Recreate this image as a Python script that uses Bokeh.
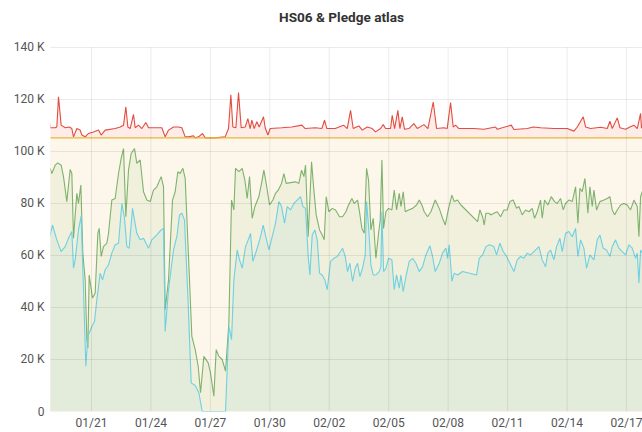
import numpy as np
import pandas as pd
from bokeh.plotting import figure
from bokeh.models import Range1d, FixedTicker, DatetimeTickFormatter, Label
from bokeh.embed import file_html
from bokeh.resources import INLINE

# ---- data (time in days since 2019-01-18 00:00, values in thousands HS06) ----
red_day = [0.85, 0.913, 1.166, 1.250, 1.334, 1.468, 1.670, 1.872, 2.007, 2.091, 2.259, 2.427, 2.512,
           2.680, 2.848, 3.100, 3.353, 3.488, 3.689, 4.194, 4.447, 4.615, 4.733, 4.834, 4.951, 5.120,
           5.204, 5.372, 5.540, 5.742, 5.877, 6.213, 6.550, 6.718, 6.887, 7.139, 7.391, 7.560, 7.728,
           7.896, 8.149, 8.233, 8.401, 8.603, 8.737, 9.242, 9.747, 9.915, 10.033, 10.134, 10.286,
           10.420, 10.555, 10.757, 10.891, 11.009, 11.093, 11.211, 11.346, 11.463, 11.682, 11.766,
           11.901, 12.019, 12.608, 13.112, 13.617, 13.786, 14.290, 14.627, 14.761, 14.879, 15.299,
           15.720, 15.907, 16.075, 16.209, 16.495, 16.664, 16.916, 17.168, 17.337, 17.589, 17.724,
           17.842, 18.094, 18.178, 18.296, 18.464, 18.565, 18.683, 18.801, 19.019, 19.272, 19.440,
           19.777, 19.979, 20.248, 20.416, 20.786, 20.954, 21.123, 21.257, 21.375, 21.543, 22.301,
           22.805, 23.394, 23.478, 24.185, 24.320, 24.993, 25.296, 25.666, 26.339, 27.012, 27.349,
           27.517, 27.820, 27.937, 28.190, 28.695, 29.031, 29.166, 29.284, 29.536, 29.671, 29.957,
           30.175, 30.377, 30.545, 30.713, 30.76, 30.85]
red_k = [113.3, 109.1, 109.1, 109.4, 121.0, 110.1, 109.1, 109.4, 108.8, 105.6, 108.8, 108.2, 106.3,
         105.6, 106.9, 107.5, 108.2, 106.3, 108.2, 108.8, 109.4, 110.1, 117.1, 109.4, 108.8, 114.2,
         109.1, 110.1, 108.8, 111.1, 109.1, 109.1, 109.1, 105.6, 108.2, 109.4, 109.4, 109.1, 105.6,
         105.6, 106.0, 105.2, 105.6, 106.9, 105.2, 105.2, 105.6, 108.8, 121.8, 109.4, 109.1,
         122.6, 109.1, 109.4, 112.6, 108.8, 112.0, 108.8, 111.4, 109.4, 113.3, 109.1,
         106.3, 108.8, 109.1, 109.4, 110.1, 108.8, 109.1, 108.8, 112.0, 108.8, 108.8,
         110.1, 108.8, 115.8, 108.8, 109.8, 108.2, 109.4, 108.8, 107.5, 108.8, 110.3,
         108.8, 108.8, 113.9, 108.8, 115.8, 108.8, 113.3, 108.5, 108.8, 110.7, 108.8,
         110.3, 108.8, 119.0, 108.8, 109.1, 108.8, 118.8, 109.4, 110.1, 108.8, 108.8,
         108.5, 109.4, 108.5, 110.1, 108.4, 108.8, 109.4, 109.1, 108.8, 108.8, 107.8,
         109.4, 113.3, 109.4, 108.8, 109.3, 108.8, 111.6, 108.8, 112.9, 109.1, 108.5,
         109.4, 110.1, 108.8, 114.6, 109.0, 109.5]

pledge_day = [0.85, 30.85]
pledge_k = [105.2, 105.2]

green_day = [0.85, 0.913, 0.997, 1.166, 1.300, 1.468, 1.586, 1.754, 1.923, 2.007, 2.091, 2.259, 2.343,
             2.461, 2.562, 2.680, 2.764, 2.815, 2.882, 3.050, 3.185, 3.319, 3.387, 3.488, 3.605, 3.774,
             3.858, 4.026, 4.194, 4.363, 4.497, 4.615, 4.733, 4.867, 5.002, 5.170, 5.288, 5.456, 5.625,
             5.793, 5.961, 6.129, 6.298, 6.516, 6.634, 6.718, 6.887, 7.088, 7.223, 7.358, 7.475, 7.610,
             7.728, 7.896, 8.064, 8.233, 8.385, 8.502, 8.671, 8.889, 9.007, 9.175, 9.293, 9.428, 9.596,
             9.764, 9.933, 10.067, 10.185, 10.269, 10.437, 10.606, 10.740, 10.858, 10.976, 11.111,
             11.245, 11.447, 11.582, 11.699, 11.817, 11.985, 12.154, 12.288, 12.423, 12.591, 12.709,
             12.827, 13.046, 13.298, 13.466, 13.601, 13.719, 13.803, 13.937, 14.106, 14.223, 14.341,
             14.509, 14.644, 14.745, 14.846, 14.981, 15.149, 15.317, 15.519, 15.671, 15.839, 15.974,
             16.142, 16.260, 16.428, 16.512, 16.647, 16.765, 16.882, 16.983, 17.101, 17.219, 17.354,
             17.488, 17.572, 17.657, 17.741, 17.858, 17.993, 18.161, 18.279, 18.397, 18.532, 18.616,
             18.733, 18.834, 19.003, 19.205, 19.406, 19.541, 19.676, 19.793, 19.962, 20.130, 20.349,
             20.551, 20.719, 20.854, 21.022, 21.190, 21.308, 21.476, 21.644, 22.486, 22.603, 22.738,
             22.822, 22.906, 23.075, 23.141, 23.309, 23.478, 23.646, 23.814, 23.982, 24.117, 24.285,
             24.453, 24.571, 24.740, 24.908, 25.076, 25.244, 25.362, 25.497, 25.665, 25.749, 25.867,
             26.035, 26.203, 26.372, 26.506, 26.674, 26.809, 26.927, 27.095, 27.264, 27.432, 27.550,
             27.650, 27.768, 27.903, 27.987, 28.054, 28.155, 28.273, 28.357, 28.492, 28.660, 28.862,
             29.030, 29.165, 29.283, 29.400, 29.535, 29.703, 29.872, 30.040, 30.208, 30.376, 30.545,
             30.629, 30.713, 30.797, 30.85]
green_k = [93.0, 93.5, 91.5, 94.7, 95.6, 94.7, 90.3, 80.7, 93.1, 91.5, 66.6, 83.9, 80.0,
           87.1, 60.9, 50.6, 27.6, 24.4, 52.5, 43.6, 45.5, 68.5, 70.4, 59.6, 63.4, 64.7,
           68.5, 81.3, 81.9, 91.5, 97.3, 101.1, 74.9, 92.8, 99.2, 101.1, 95.4, 96.7, 84.5,
           81.3, 80.7, 85.1, 86.4, 90.3, 86.4, 39.1, 50.6, 81.3, 84.5, 92.2, 91.5, 93.5,
           89.6, 59.6, 28.9, 23.8, 17.4, 7.2, 21.2, 18.7, 14.8, 5.9, 23.8, 21.2, 20.0,
           15.5, 34.0, 81.3, 77.5, 93.5, 92.2, 93.5, 89.0, 81.9, 90.3, 74.3,
           78.8, 82.6, 87.7, 92.8, 87.7, 79.4, 81.3, 83.9, 85.1, 87.7, 91.5,
           87.7, 88.0, 88.3, 87.7, 92.8, 90.3, 94.7, 67.2, 96.0, 85.1, 75.6,
           69.8, 67.9, 66.0, 82.6, 76.8, 78.1, 77.5, 74.9, 74.9, 76.8, 79.4,
           81.9, 80.0, 81.3, 77.5, 70.4, 68.5, 93.5, 89.0, 69.8, 74.3, 58.9,
           68.5, 73.6, 96.7, 70.4, 76.8, 78.1, 77.5, 85.1, 77.5, 83.9, 78.8,
           84.5, 76.8, 77.5, 78.1, 79.4, 81.3, 79.4, 76.8, 74.9, 76.8, 81.3,
           78.1, 74.3, 71.7, 78.1, 83.2, 80.7, 81.3, 79.4, 73.0, 77.5, 74.9,
           71.7, 76.2, 76.2, 75.6, 76.2, 76.8, 74.9, 77.5, 77.5, 80.7, 81.3,
           78.1, 78.8, 75.6, 77.5, 76.8, 78.1, 74.3, 76.8, 81.3, 74.3, 81.3,
           79.4, 82.6, 80.7, 80.0, 81.9, 77.5, 80.0, 81.3, 80.7, 86.4, 72.4,
           85.8, 84.5, 89.6, 82.6, 76.2, 86.4, 78.8, 85.1, 77.5, 80.7, 81.3,
           81.9, 82.6, 77.5, 75.6, 77.5, 79.4, 80.0, 79.4, 77.5, 81.3, 78.8,
           67.2, 82.6, 84.5, 84.0]

cyan_day = [0.85, 0.913, 1.031, 1.250, 1.468, 1.670, 1.872, 2.007, 2.091, 2.175, 2.343, 2.478, 2.579,
            2.714, 2.815, 3.016, 3.151, 3.269, 3.437, 3.555, 3.690, 3.858, 4.026, 4.194, 4.363, 4.531,
            4.665, 4.783, 4.901, 5.069, 5.170, 5.288, 5.456, 5.625, 5.877, 6.045, 6.298, 6.516, 6.634,
            6.718, 6.887, 7.139, 7.307, 7.442, 7.560, 7.694, 7.863, 8.031, 8.233, 8.418, 8.587, 9.764,
            9.933, 10.067, 10.185, 10.353, 10.471, 10.606, 10.774, 10.942, 11.026, 11.144, 11.312,
            11.531, 11.666, 11.817, 11.952, 12.120, 12.288, 12.457, 12.591, 12.743, 12.877, 13.046,
            13.214, 13.382, 13.550, 13.668, 13.803, 13.937, 14.022, 14.139, 14.274, 14.392, 14.509,
            14.644, 14.779, 14.896, 15.065, 15.233, 15.401, 15.570, 15.671, 15.806, 15.923, 16.041,
            16.176, 16.310, 16.428, 16.546, 16.681, 16.815, 16.882, 16.983, 17.101, 17.219, 17.354,
            17.522, 17.606, 17.657, 17.741, 17.858, 17.993, 18.161, 18.279, 18.397, 18.532, 18.616,
            18.733, 18.868, 19.036, 19.205, 19.373, 19.541, 19.709, 19.878, 20.080, 20.214, 20.349,
            20.551, 20.719, 20.887, 20.971, 21.055, 21.190, 21.308, 21.476, 21.729, 22.435, 22.570,
            22.738, 22.906, 23.075, 23.309, 23.444, 23.612, 23.780, 23.949, 24.117, 24.319, 24.487,
            24.655, 24.824, 24.992, 25.160, 25.328, 25.581, 25.749, 25.917, 26.035, 26.170, 26.338,
            26.473, 26.641, 26.759, 26.927, 27.095, 27.264, 27.432, 27.550, 27.684, 27.852, 27.987,
            28.155, 28.357, 28.526, 28.660, 28.828, 28.997, 29.165, 29.283, 29.451, 29.619, 29.787,
            29.956, 30.124, 30.292, 30.460, 30.545, 30.629, 30.713, 30.797, 30.85]
cyan_k = [67.0, 67.9, 71.7, 66.0, 61.5, 63.4, 67.2, 69.2, 55.1, 58.3, 69.8, 75.2, 50.6,
          17.4, 28.9, 32.7, 34.6, 43.0, 53.2, 50.6, 54.5, 56.4, 60.9, 64.1, 64.7, 80.0,
          74.3, 63.4, 62.8, 78.1, 73.6, 68.5, 66.0, 66.6, 62.8, 66.0, 67.9, 69.8, 70.4,
          30.8, 46.8, 62.1, 67.2, 75.6, 76.2, 73.6, 44.2, 11.0, 10.0, 7.2, 0.0, 0.0,
          32.7, 27.6, 50.6, 62.1, 58.3, 55.1, 63.4, 66.6, 68.5, 57.7, 61.5,
          67.2, 71.7, 66.6, 62.1, 67.2, 72.4, 80.7, 78.8, 72.4, 78.8, 77.5,
          80.0, 81.3, 82.6, 78.8, 78.1, 59.6, 52.5, 67.9, 69.8, 66.0, 53.2,
          52.5, 50.6, 46.8, 57.7, 58.9, 59.6, 61.5, 62.8, 59.6, 53.8, 57.0,
          50.0, 55.1, 57.0, 51.9, 55.1, 60.2, 80.7, 71.1, 56.4, 52.5, 52.5,
          53.8, 55.7, 76.8, 53.8, 55.1, 58.9, 58.3, 46.8, 52.5, 47.4, 52.5,
          46.1, 51.9, 57.7, 58.9, 57.0, 53.8, 55.7, 60.2, 63.7, 59.6, 53.8,
          57.0, 60.9, 62.8, 58.9, 64.1, 50.0, 53.2, 52.5, 53.8, 52.5, 58.9,
          60.2, 63.4, 64.1, 63.4, 60.2, 64.7, 61.5, 59.6, 57.0, 53.8, 58.3,
          59.6, 58.9, 60.9, 60.2, 61.5, 63.4, 58.3, 55.7, 60.9, 62.1, 58.3,
          63.4, 66.6, 61.5, 68.5, 69.2, 67.2, 70.4, 59.6, 66.0, 62.8, 55.1,
          60.2, 58.3, 66.0, 67.9, 62.8, 62.1, 59.6, 63.4, 66.0, 62.8, 61.5,
          60.2, 64.1, 62.8, 58.9, 60.9, 49.4, 62.1, 60.9, 62.0]

x_start_day, x_end_day = 0.93, 30.81
y_max_k = 140
y_ticks_k = [0, 20, 40, 60, 80, 100, 120, 140]
y_tick_labels = ["0", "20 K", "40 K", "60 K", "80 K", "100 K", "120 K", "140 K"]
x_tick_dates = ["2019-01-21", "2019-01-24", "2019-01-27", "2019-01-30", "2019-02-02",
                "2019-02-05", "2019-02-08", "2019-02-11", "2019-02-14", "2019-02-17"]
title_text = "HS06 & Pledge atlas"

BASE = pd.Timestamp("2019-01-18")


def to_time(days):
    return BASE + pd.to_timedelta(np.asarray(days, dtype=float), unit="D")


def to_ms(ts):
    return (pd.Timestamp(ts) - pd.Timestamp("1970-01-01")) / pd.Timedelta(milliseconds=1)


# layout: the frame spans up to the canvas top; the header band (47 px) above the
# 140 K line is part of the frame so the title can sit there as a label
W, H = 642, 432
LEFT, BOTTOM, HEADER = 50, 20, 47
plot_px = H - BOTTOM - HEADER                 # pixels used by 0..140 K
y_top = y_max_k * (plot_px + HEADER) / plot_px

p = figure(width=W, height=H, x_axis_type="datetime", output_backend="svg",
           toolbar_location=None, min_border_left=LEFT, min_border_right=0,
           min_border_bottom=BOTTOM, min_border_top=0,
           x_range=Range1d(to_time([x_start_day])[0], to_time([x_end_day])[0]),
           y_range=Range1d(0, y_top))
p.outline_line_color = None
p.background_fill_color = "white"
p.border_fill_color = "white"

mid_ms = (to_ms(to_time([x_start_day])[0]) + to_ms(to_time([x_end_day])[0])) / 2
p.add_layout(Label(x=mid_ms, y=y_max_k, x_units="data", y_units="data",
                   x_offset=-5, y_offset=30,
                   text=title_text, text_align="center", text_baseline="middle",
                   text_font="Roboto", text_font_size="13.6px", text_font_style="bold",
                   text_color="#333333"))

# fills (stacked visually, opaque)
p.varea(x=to_time(red_day), y1=0, y2=red_k, fill_color="#fdece8")
p.varea(x=to_time(pledge_day), y1=0, y2=pledge_k, fill_color="#fdf6ea")
p.varea(x=to_time(green_day), y1=0, y2=green_k, fill_color="#f0f0dd")
p.varea(x=to_time(cyan_day), y1=0, y2=cyan_k, fill_color="#e3ebdb")

# lines
p.line(to_time(red_day), red_k, line_color="#E24D42", line_width=1.1)
p.line(to_time(pledge_day), pledge_k, line_color="#EAB839", line_width=1.2)
p.line(to_time(green_day), green_k, line_color="#7EB26D", line_width=1.1)
p.line(to_time(cyan_day), cyan_k, line_color="#6ED0E0", line_width=1.1)

# vertical grid lines limited to the 0..140 K band, drawn over the fills
tick_times = pd.to_datetime(x_tick_dates)
p.segment(x0=tick_times, y0=0, x1=tick_times, y1=y_max_k,
          line_color="black", line_alpha=0.08, line_width=1)
p.xgrid.visible = False

# axes
p.yaxis.ticker = FixedTicker(ticks=y_ticks_k)
p.yaxis.major_label_overrides = {t: l for t, l in zip(y_ticks_k, y_tick_labels)}
p.xaxis.ticker = FixedTicker(ticks=[to_ms(d) for d in x_tick_dates])
p.xaxis.formatter = DatetimeTickFormatter(days="%m/%d", months="%m/%d", hours="%m/%d")
for ax in (p.xaxis, p.yaxis):
    ax.axis_line_color = None
    ax.major_tick_line_color = None
    ax.minor_tick_line_color = None
    ax.major_tick_out = 0
    ax.minor_tick_out = 0
    ax.major_label_text_font = "Roboto"
    ax.major_label_text_font_size = "12px"
    ax.major_label_text_color = "#555555"
p.yaxis.major_label_standoff = 6
p.xaxis.major_label_standoff = 4

p.ygrid.grid_line_color = "black"
p.ygrid.grid_line_alpha = 0.08
p.ygrid.level = "overlay"

open("out.html", "w").write(file_html(p, INLINE))
